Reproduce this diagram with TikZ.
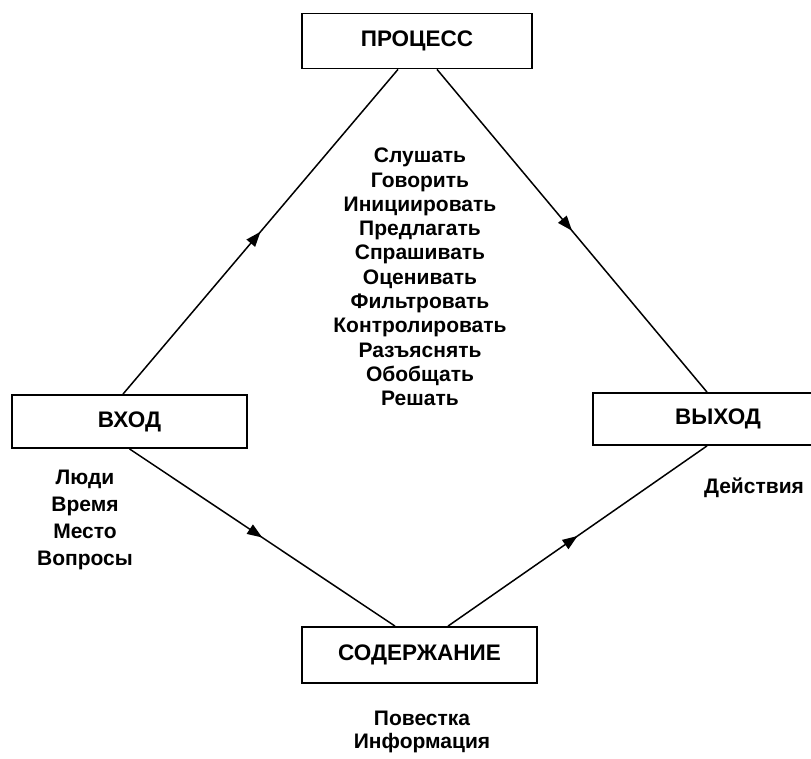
\documentclass[tikz,border=0pt]{standalone}
\usepackage{fontspec}
\setmainfont{Liberation Sans}
\usetikzlibrary{arrows.meta,decorations.markings}
\begin{document}
\begin{tikzpicture}[x=1pt,y=-1pt,
  box/.style={draw,line width=1.8pt,inner sep=0pt,font=\bfseries\fontsize{22.5}{26}\selectfont},
  link/.style={line width=1.5pt,postaction={decorate},
    decoration={markings,mark=at position 0.5 with {\arrow{Triangle[length=15pt,width=11pt]}}}},
  lbl/.style={align=center,inner sep=0pt,font=\bfseries\fontsize{21}{24.3}\selectfont}]
\useasboundingbox (0,0) rectangle (811,759);
\clip (0,0) rectangle (811,759);
\fill[white] (0,0) rectangle (811,759);
\node[box,minimum width=230pt,minimum height=55pt] (proc) at (417,41) {ПРОЦЕСС};
\node[box,minimum width=235pt,minimum height=53pt] (vhod) at (129.5,421.5) {ВХОД};
\node[box,minimum width=250pt,minimum height=52pt] (vyhod) at (718,419) {ВЫХОД};
\node[box,minimum width=235pt,minimum height=56pt] (sod) at (419.5,655) {СОДЕРЖАНИЕ};
\draw[link] ([xshift=-6.5pt]vhod.north) -- ([xshift=-19pt]proc.south);
\draw[link] ([xshift=20pt]proc.south) -- ([xshift=-11pt]vyhod.north);
\draw[link] (vhod.south) -- ([xshift=-24.5pt]sod.north);
\draw[link] ([xshift=28.5pt]sod.north) -- ([xshift=-11pt]vyhod.south);
\node[lbl] (acts) at (420,277) {Слушать\\Говорить\\Инициировать\\Предлагать\\Спрашивать\\Оценивать\\Фильтровать\\Контролировать\\Разъяснять\\Обобщать\\Решать};
\node[lbl,font=\bfseries\fontsize{21}{26.7}\selectfont] (inp) at (85,520) {Люди\\Время\\Место\\Вопросы};
\node[lbl] (outp) at (754,488) {Действия};
\node[lbl,font=\bfseries\fontsize{21}{23}\selectfont] (cont) at (422,732) {Повестка\\Информация};
\end{tikzpicture}
\end{document}
